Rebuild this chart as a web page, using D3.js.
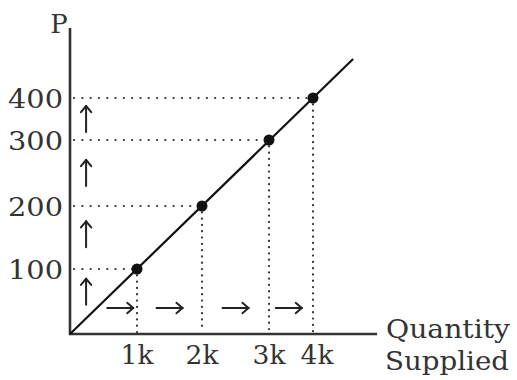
<!DOCTYPE html>
<html><head><meta charset="utf-8">
<script src="https://cdn.jsdelivr.net/npm/d3@7"></script>
<style>body{margin:0;background:#fff;} text{font-family:"DejaVu Serif",serif;fill:#333;}</style>
</head><body>
<svg id="c" width="517" height="380"></svg>
<script>
const quantities = [1000, 2000, 3000, 4000];
const prices = [100, 200, 300, 400];
const xTickLabels = ["1k", "2k", "3k", "4k"];
const yTickLabels = ["100", "200", "300", "400"];
const upArrowPrices = [65, 155, 250, 350];
const rightArrowQuantities = [750, 1500, 2500, 3450];

const svg = d3.select("#c");
const ox = 70, oy = 334;
// piecewise scales as in the hand-drawn figure
const x = d3.scaleLinear().domain([0, ...quantities]).range([ox, 137, 202, 269, 313]);
const y = d3.scaleLinear().domain([0, ...prices]).range([oy, 269, 206, 140, 98]);

const ink = "#333";
// dotted guides
quantities.forEach((q, i) => {
  const p = prices[i];
  svg.append("line").attr("x1", ox + 4).attr("x2", x(q)).attr("y1", y(p)).attr("y2", y(p))
    .attr("stroke", ink).attr("stroke-width", 2.2).attr("stroke-dasharray", "0.1,8.2").attr("stroke-linecap", "round");
  svg.append("line").attr("x1", x(q)).attr("x2", x(q)).attr("y1", y(p)).attr("y2", oy - 2)
    .attr("stroke", ink).attr("stroke-width", 2.2).attr("stroke-dasharray", "0.1,6.2").attr("stroke-linecap", "round");
});

// axes
svg.append("line").attr("x1", ox).attr("x2", ox).attr("y1", 28).attr("y2", oy + 1).attr("stroke", ink).attr("stroke-width", 2.6);
svg.append("line").attr("x1", ox - 1).attr("x2", 377).attr("y1", oy).attr("y2", oy).attr("stroke", ink).attr("stroke-width", 2.6);

// supply line from origin through the points, extended
const lx = x(quantities[3]), ly = y(prices[3]);
const ext = 1.165;
svg.append("line").attr("x1", x(0)).attr("y1", y(0))
  .attr("x2", x(0) + (lx - x(0)) * ext).attr("y2", y(0) + (ly - y(0)) * ext)
  .attr("stroke", "#111").attr("stroke-width", 2.2);

// points
svg.selectAll("circle.pt").data(quantities).join("circle").attr("class", "pt")
  .attr("cx", d => x(d)).attr("cy", (d, i) => y(prices[i])).attr("r", 5.5).attr("fill", "#111");

// arrows
const arrow = (x1, y1, x2, y2) => {
  const g = svg.append("g").attr("stroke", "#222").attr("stroke-width", 2).attr("fill", "none").attr("stroke-linecap", "round");
  g.append("line").attr("x1", x1).attr("y1", y1).attr("x2", x2).attr("y2", y2);
  const ang = Math.atan2(y2 - y1, x2 - x1), h = 8;
  [-0.7, 0.7].forEach(a => {
    g.append("line").attr("x1", x2).attr("y1", y2)
      .attr("x2", x2 - h * Math.cos(ang + a)).attr("y2", y2 - h * Math.sin(ang + a));
  });
};
const upX = x(240);
upArrowPrices.forEach(p => arrow(upX, y(p) + 13, upX, y(p) - 13));
const rY = y(40);
rightArrowQuantities.forEach(q => arrow(x(q) - 13, rY, x(q) + 13, rY));

// tick labels
svg.selectAll("text.yt").data(prices).join("text").attr("class", "yt")
  .attr("x", 63).attr("y", d => y(d) + 9.5).attr("text-anchor", "end")
  .attr("font-size", 26).attr("textLength", 55).attr("lengthAdjust", "spacingAndGlyphs")
  .text((d, i) => yTickLabels[i]);
svg.selectAll("text.xt").data(quantities).join("text").attr("class", "xt")
  .attr("x", (d, i) => x(d) + (i === 3 ? 4 : 0)).attr("y", 364).attr("text-anchor", "middle")
  .attr("font-size", 26).attr("textLength", 33).attr("lengthAdjust", "spacingAndGlyphs")
  .text((d, i) => xTickLabels[i]);

// axis titles
svg.append("text").attr("x", 59).attr("y", 33).attr("text-anchor", "middle").attr("font-size", 26).text("P");
svg.append("text").attr("x", 386).attr("y", 338).attr("font-size", 26)
  .attr("textLength", 124).attr("lengthAdjust", "spacingAndGlyphs").text("Quantity");
svg.append("text").attr("x", 385).attr("y", 370).attr("font-size", 26)
  .attr("textLength", 124).attr("lengthAdjust", "spacingAndGlyphs").text("Supplied");
</script>
</body></html>
